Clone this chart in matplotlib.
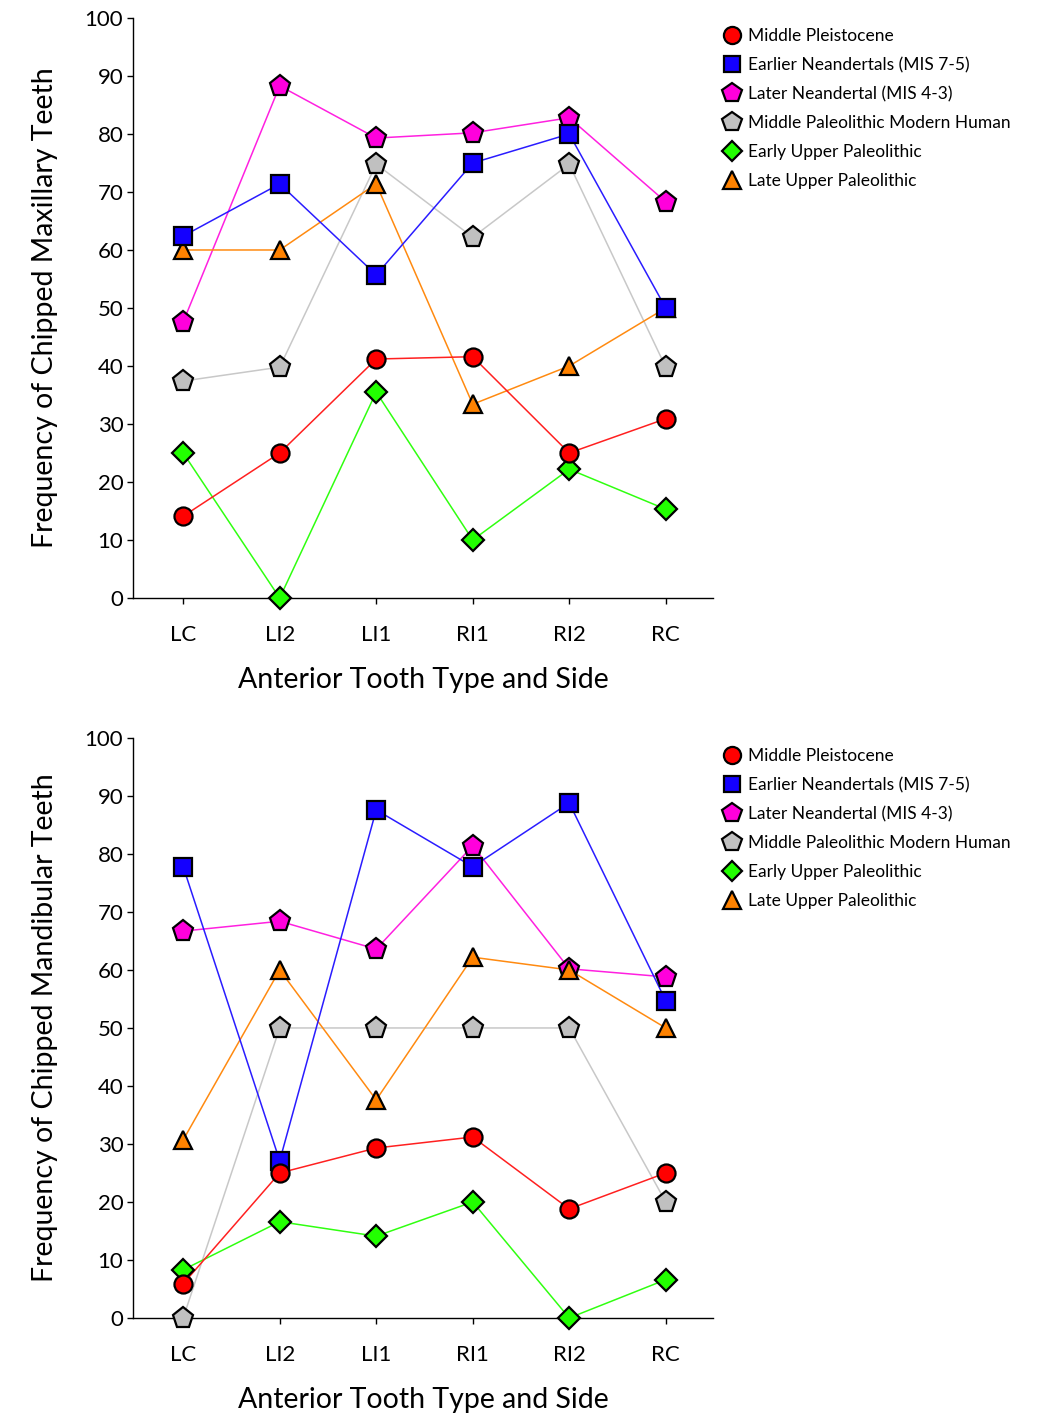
import matplotlib
matplotlib.use("Agg")
import matplotlib.pyplot as plt
from matplotlib.lines import Line2D

plt.rcParams['font.family'] = ['Lato', 'DejaVu Sans']

teeth = ["LC", "LI2", "LI1", "RI1", "RI2", "RC"]
groups = ["Middle Pleistocene", "Earlier Neandertals (MIS 7-5)", "Later Neandertal (MIS 4-3)",
          "Middle Paleolithic Modern Human", "Early Upper Paleolithic", "Late Upper Paleolithic"]

# maxillary teeth, % chipped
max_mp = [14.1, 25.0, 41.2, 41.6, 25.0, 30.9]
max_en = [62.4, 71.4, 55.7, 75.0, 80.0, 50.0]
max_ln = [47.6, 88.3, 79.3, 80.2, 82.8, 68.3]
max_mpmh = [37.4, 39.8, 74.8, 62.2, 74.8, 39.8]
max_eup = [25.0, 0.0, 35.5, 10.0, 22.2, 15.3]
max_lup = [60.0, 60.0, 71.4, 33.4, 40.0, 50.0]

# mandibular teeth, % chipped
man_mp = [5.9, 25.0, 29.3, 31.2, 18.8, 25.0]
man_en = [77.8, 27.1, 87.6, 77.8, 88.8, 54.7]
man_ln = [66.7, 68.4, 63.6, 81.4, 60.2, 58.8]
man_mpmh = [0.0, 50.0, 50.0, 50.0, 50.0, 20.0]
man_eup = [8.3, 16.6, 14.1, 20.0, 0.0, 6.6]
man_lup = [30.7, 60.0, 37.6, 62.2, 60.0, 50.0]

# marker, fill, line colour, marker size, zorder
styles = [
    ("o", "#ff0000", "#ff2020", 13, 8),
    ("s", "#1400ff", "#2a1cff", 12.5, 7),
    ("p", "#ff00dc", "#ff20e0", 15.5, 4),
    ("p", "#c0c0c0", "#c8c8c8", 15.5, 3),
    ("D", "#22ff00", "#30ff10", 11, 6),
    ("^", "#ff8200", "#ff8a10", 13.5, 5),
]

fig = plt.figure(figsize=(10.4, 14.17), dpi=100)


def panel(rect, series, ylabel):
    ax = fig.add_axes(rect)
    x = list(range(len(teeth)))
    for vals, (mk, fc, lc, ms, z) in zip(series, styles):
        ax.plot(x, vals, color=lc, lw=1.1, zorder=z)
        ax.plot(x, vals, linestyle="none", marker=mk, ms=ms, mfc=fc, mec="black",
                mew=1.6, zorder=z + 10, clip_on=False)
    ax.set_xlim(-0.52, 5.49)
    ax.set_ylim(0, 100)
    ax.set_yticks(range(0, 101, 10))
    ax.set_xticks(x)
    ax.set_xticklabels(teeth)
    ax.spines["top"].set_visible(False)
    ax.spines["right"].set_visible(False)
    ax.spines["left"].set_linewidth(1.0)
    ax.spines["bottom"].set_linewidth(1.0)
    ax.tick_params(axis="y", direction="out", length=4, width=1, labelsize=16, pad=3)
    ax.tick_params(axis="x", direction="out", length=4, width=1, labelsize=16, pad=15.5)
    ax.set_ylabel(ylabel, fontsize=20.5, labelpad=19)
    ax.set_xlabel("Anterior Tooth Type and Side", fontsize=20.5, labelpad=16)
    handles = [Line2D([], [], linestyle="none", marker=mk, ms=ms * 0.95, mfc=fc, mec="black", mew=1.6)
               for (mk, fc, lc, ms, z) in styles]
    ax.legend(handles, groups, loc="upper left", bbox_to_anchor=(1.0, 1.0), frameon=False,
              fontsize=12.5, handlelength=1.0, handletextpad=0.4, labelspacing=0.74,
              borderaxespad=0.2)
    return ax


panel([0.1279, 0.578, 0.5577, 0.4093],
      [max_mp, max_en, max_ln, max_mpmh, max_eup, max_lup],
      "Frequency of Chipped Maxillary Teeth")
panel([0.1279, 0.0699, 0.5577, 0.4093],
      [man_mp, man_en, man_ln, man_mpmh, man_eup, man_lup],
      "Frequency of Chipped Mandibular Teeth")

fig.savefig("out.png", dpi=100)
